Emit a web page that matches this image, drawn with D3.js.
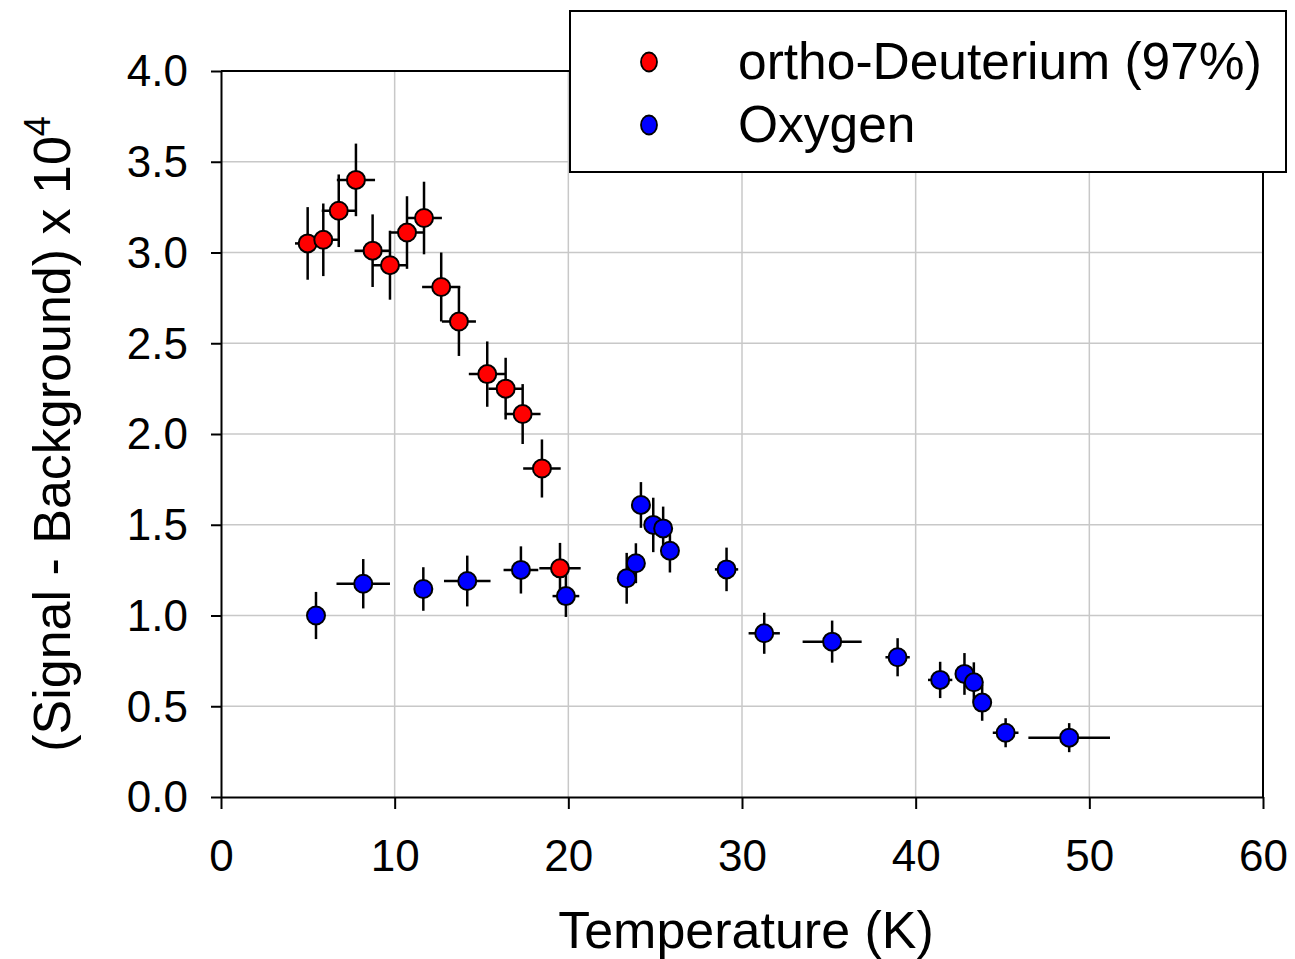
<!DOCTYPE html>
<html>
<head>
<meta charset="utf-8">
<script src="https://cdn.jsdelivr.net/npm/d3@7"></script>
<style>
  html, body { margin: 0; padding: 0; background: #fff; }
  svg { display: block; }
  text { font-family: "Liberation Sans", Arial, sans-serif; fill: #000; }
</style>
</head>
<body>
<svg id="chart" width="1295" height="959"></svg>
<script>
// ortho-Deuterium (97%) measurements
const deuteriumT      = [4.99, 5.89, 6.78, 7.77, 8.73, 9.73, 10.71, 11.69, 12.68, 13.70, 15.33, 16.39, 17.37, 18.48, 19.52];
const deuteriumSignal = [3.05, 3.07, 3.23, 3.40, 3.01, 2.93, 3.11, 3.19, 2.81, 2.62, 2.33, 2.25, 2.11, 1.81, 1.26];
const deuteriumErrT   = [0.73, 0.96, 0.98, 1.10, 1.04, 0.99, 0.98, 1.03, 1.10, 0.98, 1.06, 0.99, 1.03, 1.08, 1.19];
const deuteriumErrS   = [0.20, 0.20, 0.20, 0.20, 0.20, 0.19, 0.20, 0.20, 0.19, 0.19, 0.18, 0.17, 0.165, 0.16, 0.14];

// Oxygen measurements
const oxygenT      = [5.47, 8.19, 11.65, 14.18, 17.27, 19.86, 23.36, 23.89, 24.18, 24.89, 25.46, 25.85, 29.11, 31.28, 35.19, 38.96, 41.41, 42.81, 43.35, 43.83, 45.18, 48.84];
const oxygenSignal = [1.00, 1.175, 1.146, 1.19, 1.251, 1.107, 1.205, 1.288, 1.609, 1.499, 1.480, 1.357, 1.254, 0.902, 0.856, 0.770, 0.645, 0.678, 0.632, 0.520, 0.354, 0.327];
const oxygenErrT   = [0.40, 1.54, 0.40, 1.34, 1.00, 0.77, 0.40, 0.40, 0.40, 0.40, 0.40, 0.40, 0.67, 0.90, 1.70, 0.70, 0.70, 0.40, 0.40, 0.40, 0.74, 2.35];
const oxygenErrS   = [0.13, 0.136, 0.12, 0.14, 0.13, 0.115, 0.14, 0.11, 0.126, 0.15, 0.12, 0.12, 0.12, 0.113, 0.116, 0.105, 0.10, 0.115, 0.11, 0.10, 0.08, 0.08];

// Axis ticks and labels
const xTicks = [0, 10, 20, 30, 40, 50, 60];
const yTicks = [0, 0.5, 1.0, 1.5, 2.0, 2.5, 3.0, 3.5, 4.0];
const xTitle = "Temperature (K)";
const yTitle = "(Signal - Background) x 10";
const yTitleExp = "4";
const seriesNames = ["ortho-Deuterium (97%)", "Oxygen"];
const seriesColors = ["#ff0000", "#0000ff"];

const svg = d3.select("#chart");
const plotLeft = 221, plotRight = 1263, plotTop = 71, plotBottom = 797;

const x = d3.scaleLinear().domain([0, 60]).range([plotLeft, plotRight]);
const y = d3.scaleLinear().domain([0, 4]).range([plotBottom, plotTop]);

// grid
const grid = svg.append("g").attr("stroke", "#c8c8c8").attr("stroke-width", 1.5);
grid.selectAll("line.gx").data(xTicks.slice(1, -1)).join("line")
  .attr("x1", d => x(d)).attr("x2", d => x(d)).attr("y1", plotTop).attr("y2", plotBottom);
grid.selectAll("line.gy").data(yTicks.slice(1, -1)).join("line")
  .attr("x1", plotLeft).attr("x2", plotRight).attr("y1", d => y(d)).attr("y2", d => y(d));

// frame (top and right)
svg.append("path")
  .attr("d", `M${plotLeft},${plotTop}H${plotRight}V${plotBottom}`)
  .attr("fill", "none").attr("stroke", "#000").attr("stroke-width", 2);

// axes
const xAxis = svg.append("g").attr("transform", `translate(0,${plotBottom})`)
  .call(d3.axisBottom(x).tickValues(xTicks).tickFormat(d3.format("d")).tickSize(12).tickPadding(31).tickSizeOuter(0));
const yAxis = svg.append("g").attr("transform", `translate(${plotLeft},0)`)
  .call(d3.axisLeft(y).tickValues(yTicks).tickFormat(d3.format(".1f")).tickSize(10).tickPadding(23).tickSizeOuter(0));
[xAxis, yAxis].forEach(g => {
  g.select(".domain").attr("stroke", "#000").attr("stroke-width", 2);
  g.selectAll(".tick line").attr("stroke", "#000").attr("stroke-width", 2);
  g.selectAll(".tick text").attr("font-size", 44).attr("font-family", "Liberation Sans, Arial, sans-serif").attr("fill", "#000");
});
yAxis.selectAll(".tick text").attr("dy", "0.34em");

// axis titles
svg.append("text")
  .attr("x", 746).attr("y", 948)
  .attr("text-anchor", "middle").attr("font-size", 52)
  .text(xTitle);

const yt = svg.append("text")
  .attr("transform", `translate(70,${(plotTop + plotBottom) / 2}) rotate(-90)`)
  .attr("text-anchor", "middle").attr("font-size", 52);
yt.append("tspan").text(yTitle);
yt.append("tspan").attr("font-size", 36).attr("dy", -20).text(yTitleExp);

// series
function drawSeries(T, S, eT, eS, color) {
  const pts = T.map((t, i) => ({ t, s: S[i], et: eT[i], es: eS[i] }));
  const g = svg.append("g");
  const bars = g.append("g").attr("stroke", "#000").attr("stroke-width", 2.5);
  bars.selectAll("line.v").data(pts).join("line")
    .attr("x1", d => x(d.t)).attr("x2", d => x(d.t))
    .attr("y1", d => y(d.s - d.es)).attr("y2", d => y(d.s + d.es));
  bars.selectAll("line.h").data(pts).join("line")
    .attr("x1", d => x(d.t - d.et)).attr("x2", d => x(d.t + d.et))
    .attr("y1", d => y(d.s)).attr("y2", d => y(d.s));
  g.append("g").selectAll("circle").data(pts).join("circle")
    .attr("cx", d => x(d.t)).attr("cy", d => y(d.s)).attr("r", 9)
    .attr("fill", color).attr("stroke", "#000").attr("stroke-width", 2);
}
drawSeries(deuteriumT, deuteriumSignal, deuteriumErrT, deuteriumErrS, seriesColors[0]);
drawSeries(oxygenT, oxygenSignal, oxygenErrT, oxygenErrS, seriesColors[1]);

// legend
const lg = svg.append("g");
lg.append("rect").attr("x", 570).attr("y", 11).attr("width", 716).attr("height", 161)
  .attr("fill", "#fff").attr("stroke", "#000").attr("stroke-width", 2);
const rows = [62, 125];
seriesNames.forEach((name, i) => {
  lg.append("ellipse").attr("cx", 649).attr("cy", rows[i]).attr("rx", 8).attr("ry", 9.5)
    .attr("fill", seriesColors[i]).attr("stroke", "#000").attr("stroke-width", 1.8);
  lg.append("text").attr("x", 738).attr("y", rows[i] + 17).attr("font-size", 51.5).text(name);
});
</script>
</body>
</html>
